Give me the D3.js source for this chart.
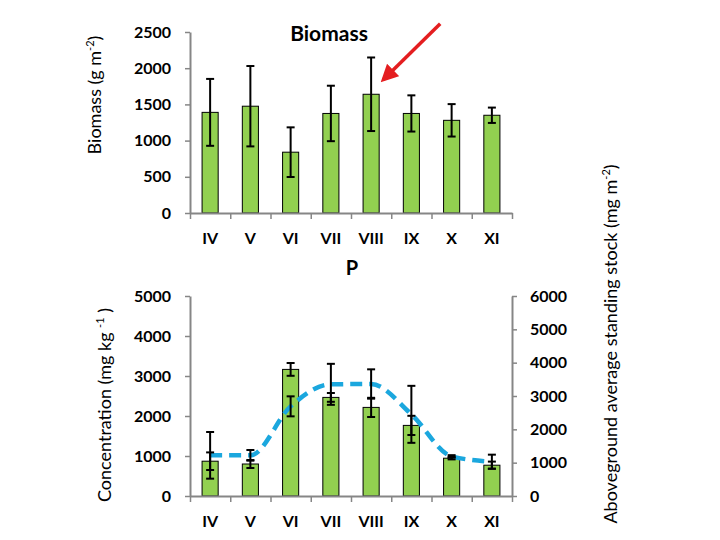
<!DOCTYPE html>
<html><head><meta charset="utf-8">
<script src="https://cdn.jsdelivr.net/npm/d3@7"></script>
<style>
html,body{margin:0;padding:0;background:#fff;}
svg{display:block;font-family:Lato,"Open Sans",sans-serif;}
</style></head>
<body>
<svg id="c" width="720" height="540"></svg>
<script>
const categories = ["IV","V","VI","VII","VIII","IX","X","XI"];
const biomass = [1390, 1475, 840, 1375, 1640, 1375, 1280, 1350];
const biomassErr = [462, 555, 343, 383, 508, 250, 224, 106];
const concentration = [870, 800, 3165, 2465, 2215, 1765, 945, 770];
const concentrationErr = [220, 100, 160, 110, 240, 240, 30, 90];
const standingStock = [1220, 1220, 2690, 3350, 3360, 2450, 1190, 1030];
const standingStockErr = [700, 160, 300, 615, 440, 855, 35, 210];
const topTicks = [0, 500, 1000, 1500, 2000, 2500];
const leftTicks = [0, 1000, 2000, 3000, 4000, 5000];
const rightTicks = [0, 1000, 2000, 3000, 4000, 5000, 6000];

const svg = d3.select("#c");
const axisColor = "#868686";
const barColor = "#92d050";
const lineColor = "#1ba7de";
const X0 = 190, X1 = 512;

const xBand = d3.scaleBand().domain(categories).range([X0, X1]).paddingInner(0.6).paddingOuter(0.3);
const xEdge = d3.scaleLinear().domain([0, categories.length]).range([X0, X1]);
const xc = c => xBand(c) + xBand.bandwidth() / 2;

const yTop = d3.scaleLinear().domain([0, 2500]).range([213, 32]);
const yLeft = d3.scaleLinear().domain([0, 5000]).range([496, 296]);
const yRight = d3.scaleLinear().domain([0, 6000]).range([496, 296]);

function styleAxis(g) {
  g.selectAll("path.domain").attr("stroke", axisColor).attr("stroke-width", 2);
  g.selectAll(".tick line").attr("stroke", axisColor).attr("stroke-width", 1.5);
  g.selectAll("text").attr("font-size", 16).attr("font-weight", "bold").attr("fill", "#000")
    .attr("font-family", "Lato, 'Open Sans', sans-serif");
}

function drawPanel(yScale, ticks, rightScale, rtTicks) {
  const eg = svg.append("g").attr("transform", `translate(0,${yScale(0)})`)
    .call(d3.axisBottom(xEdge).tickValues(d3.range(categories.length + 1)).tickFormat("").tickSize(6).tickSizeOuter(0));
  styleAxis(eg);
  const lg = svg.append("g").attr("transform", `translate(0,${yScale(0)})`)
    .call(d3.axisBottom(xBand).tickSize(0).tickPadding(20));
  lg.select("path.domain").remove();
  styleAxis(lg);
  const ag = svg.append("g").attr("transform", `translate(${X0},0)`)
    .call(d3.axisLeft(yScale).tickValues(ticks).tickFormat(d3.format("d")).tickSize(5).tickSizeOuter(0).tickPadding(14));
  styleAxis(ag);
  if (rightScale) {
    const rg = svg.append("g").attr("transform", `translate(${X1},0)`)
      .call(d3.axisRight(rightScale).tickValues(rtTicks).tickFormat(d3.format("d")).tickSize(5).tickSizeOuter(0).tickPadding(13));
    styleAxis(rg);
  }
}

function bars(yScale, vals) {
  svg.append("g").selectAll("rect").data(categories).join("rect")
    .attr("x", c => xBand(c)).attr("width", xBand.bandwidth())
    .attr("y", (c, i) => yScale(vals[i])).attr("height", (c, i) => yScale(0) - yScale(vals[i]))
    .attr("fill", barColor).attr("stroke", "#000").attr("stroke-width", 1);
}

function errorBars(yScale, vals, errs) {
  const g = svg.append("g").attr("stroke", "#000").attr("stroke-width", 2);
  categories.forEach((c, i) => {
    const x = xc(c), hi = yScale(vals[i] + errs[i]), lo = yScale(vals[i] - errs[i]);
    g.append("line").attr("x1", x).attr("x2", x).attr("y1", hi).attr("y2", lo);
    g.append("line").attr("x1", x - 4).attr("x2", x + 4).attr("y1", hi).attr("y2", hi);
    g.append("line").attr("x1", x - 4).attr("x2", x + 4).attr("y1", lo).attr("y2", lo);
  });
}

// ---------- Top panel ----------
bars(yTop, biomass);
errorBars(yTop, biomass, biomassErr);
drawPanel(yTop, topTicks);

svg.append("text").attr("x", 329).attr("y", 41).attr("text-anchor", "middle")
  .attr("font-size", 21).attr("font-weight", "bold").text("Biomass");

// red arrow annotation pointing at VIII
const defs = svg.append("defs");
defs.append("marker").attr("id", "ah").attr("viewBox", "0 0 10 10").attr("refX", 8).attr("refY", 5)
  .attr("markerWidth", 5).attr("markerHeight", 5).attr("orient", "auto")
  .append("path").attr("d", "M0,0 L10,5 L0,10 Z").attr("fill", "#e41e20");
const tipX = xc("VIII") + xBand.bandwidth() * 0.75;
const tipY = yTop(1840);
svg.append("line").attr("x1", tipX + 57).attr("y1", tipY - 56).attr("x2", tipX).attr("y2", tipY)
  .attr("stroke", "#e41e20").attr("stroke-width", 3.5).attr("marker-end", "url(#ah)");

// top y title
const t1 = svg.append("text").attr("transform", "translate(101,95) rotate(-90)")
  .attr("text-anchor", "middle").attr("font-size", 18);
t1.append("tspan").text("Biomass (g m");
t1.append("tspan").attr("font-size", 11).attr("dy", -7).text("-2");
t1.append("tspan").attr("dy", 7).text(")");

// ---------- Bottom panel ----------
svg.append("text").attr("x", 352).attr("y", 275).attr("text-anchor", "middle")
  .attr("font-size", 20).attr("font-weight", "bold").text("P");

bars(yLeft, concentration);
const line = d3.line().x((d, i) => xc(categories[i])).y(d => yRight(d)).curve(d3.curveMonotoneX);
svg.append("path").datum(standingStock).attr("d", line).attr("fill", "none")
  .attr("stroke", lineColor).attr("stroke-width", 4.5).attr("stroke-dasharray", "12,7");
errorBars(yLeft, concentration, concentrationErr);
errorBars(yRight, standingStock, standingStockErr);
drawPanel(yLeft, leftTicks, yRight, rightTicks);

const t2 = svg.append("text").attr("transform", "translate(111,405) rotate(-90)")
  .attr("text-anchor", "middle").attr("font-size", 18);
t2.append("tspan").text("Concentration (mg kg ");
t2.append("tspan").attr("font-size", 11).attr("dy", -7).text("-1");
t2.append("tspan").attr("dy", 7).text(" )");

const t3 = svg.append("text").attr("transform", "translate(617,344) rotate(-90)")
  .attr("text-anchor", "middle").attr("font-size", 18);
t3.append("tspan").text("Aboveground average standing stock (mg m");
t3.append("tspan").attr("font-size", 11).attr("dy", -7).text("-2");
t3.append("tspan").attr("dy", 7).text(")");
</script>
</body></html>
